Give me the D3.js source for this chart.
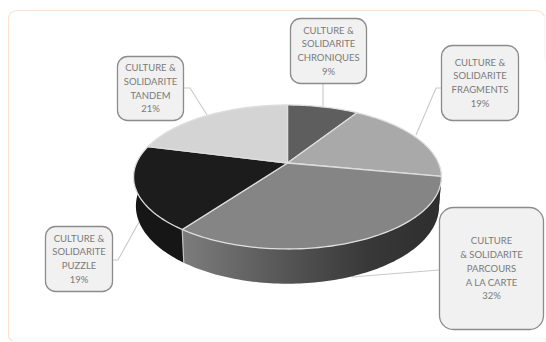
<!DOCTYPE html>
<html>
<head>
<meta charset="utf-8">
<script src="https://cdn.jsdelivr.net/npm/d3@7"></script>
<style>
  html, body { margin: 0; padding: 0; background: #fff; }
  svg { display: block; }
  text { font-family: Lato, "Open Sans", sans-serif; }
</style>
</head>
<body>
<svg id="chart" width="546" height="342"></svg>
<script>
// Share of each "Culture & Solidarité" programme, clockwise from twelve o'clock
const names = ["CHRONIQUES", "FRAGMENTS", "PARCOURS", "PUZZLE", "TANDEM"];
const shares = [9, 19, 32, 19, 21];
const topColors = ["#5e5e5e", "#a9a9a9", "#858585", "#1c1c1c", "#d4d4d4"];
const sideColors = ["#3a3a3a", "#383838", "url(#wallGradient)", "#161616", "#888888"];
const labelLines = [
  ["CULTURE &", "SOLIDARITE", "CHRONIQUES", "9%"],
  ["CULTURE &", "SOLIDARITE", "FRAGMENTS", "19%"],
  ["CULTURE", "& SOLIDARITE", "PARCOURS", "A LA CARTE", "32%"],
  ["CULTURE &", "SOLIDARITE", "PUZZLE", "19%"],
  ["CULTURE &", "SOLIDARITE", "TANDEM", "21%"]
];
const boxes = [
  { x: 290, y: 18, w: 76, h: 65, r: 10 },
  { x: 441, y: 45, w: 77, h: 75, r: 11 },
  { x: 439, y: 207, w: 104, h: 122, r: 14 },
  { x: 45, y: 226, w: 67, h: 65, r: 10 },
  { x: 117, y: 56, w: 66, h: 64, r: 10 }
];
const leaders = [
  [[323, 83], [323, 106]],
  [[441, 88], [436, 88], [416, 135]],
  [[439, 270], [352, 277]],
  [[112, 260], [118, 260], [139, 222]],
  [[183, 88], [190, 88], [207, 115]]
];

const svg = d3.select("#chart");
const defs = svg.append("defs");

// Shading along the front wall of the largest slice
const grad = defs.append("linearGradient").attr("id", "wallGradient")
  .attr("gradientUnits", "userSpaceOnUse")
  .attr("x1", 183).attr("x2", 440).attr("y1", 0).attr("y2", 0);
grad.append("stop").attr("offset", 0).attr("stop-color", "#7c7c7c");
grad.append("stop").attr("offset", 0.4).attr("stop-color", "#555555");
grad.append("stop").attr("offset", 0.72).attr("stop-color", "#383838");
grad.append("stop").attr("offset", 1).attr("stop-color", "#2e2e2e");

// Page frame: a pale band along the foot, then a peach edge on three sides
svg.append("rect").attr("x", 9).attr("y", 337).attr("width", 537).attr("height", 5)
  .attr("fill", "#f8fcfd");
svg.append("path")
  .attr("d", "M13,341 Q8.5,340 8.5,335 V20 Q8.5,10.5 18,10.5 H535 Q542,10.5 544.5,16")
  .attr("fill", "none").attr("stroke", "#fbe3cf").attr("stroke-width", 1.2);
svg.append("path")
  .attr("d", "M544.5,16 V60")
  .attr("fill", "none").attr("stroke", "#fdf4ec").attr("stroke-width", 1);

// Perspective projection of the tilted disc
const cx = 287.5, cy = 163, radiusX = 151, radiusY = 69.3, tilt = 0.194;
const depth = 28, floorScale = 0.985;
function rim(theta, floor) {
  const X = Math.sin(theta), Y = Math.cos(theta);
  const s = 1 / (1 + tilt * Y);
  const f = floor ? floorScale : 1;
  return [cx + radiusX * X * s * f,
          cy - radiusY * Y * s + (floor ? depth * s : 0)];
}
function arcPoints(a, b, floor) {
  const n = Math.max(2, Math.ceil(Math.abs(b - a) / 0.02));
  return d3.range(n + 1).map(i => rim(a + (b - a) * i / n, floor));
}
const line = d3.line();

const slices = d3.pie().sort(null).value(d => d)(shares);

// Leader lines sit under the pie
svg.append("g").selectAll("path").data(leaders).join("path")
  .attr("d", d => line(d))
  .attr("fill", "none").attr("stroke", "#c9c9c9").attr("stroke-width", 1.1);

// Visible part of the side wall: the half of the rim facing the viewer
const frontStart = Math.PI * 0.47, frontEnd = Math.PI * 1.53;
svg.append("g").selectAll("path")
  .data(slices.filter(d => d.endAngle > frontStart && d.startAngle < frontEnd))
  .join("path")
  .attr("d", d => {
    const a = Math.max(d.startAngle, frontStart), b = Math.min(d.endAngle, frontEnd);
    return line(arcPoints(a, b, false).concat(arcPoints(b, a, true))) + "Z";
  })
  .attr("fill", d => sideColors[d.index]);

// Edge where two wall colours meet
svg.append("g").selectAll("path")
  .data(slices.filter(d => d.index === 3))
  .join("path")
  .attr("d", d => line([rim(d.startAngle, false), rim(d.startAngle, true)]))
  .attr("fill", "none").attr("stroke", "#c4c4c4").attr("stroke-width", 1.2);

// Top face slices
svg.append("g").selectAll("path").data(slices).join("path")
  .attr("d", d => line([[cx, cy]].concat(arcPoints(d.startAngle, d.endAngle, false))) + "Z")
  .attr("fill", (d, i) => topColors[i])
  .attr("stroke", "#dedede").attr("stroke-width", 1.3).attr("stroke-linejoin", "round");

// Callouts
const callout = svg.append("g").selectAll("g").data(boxes).join("g");
callout.append("rect")
  .attr("x", d => d.x + 0.5).attr("y", d => d.y + 0.5)
  .attr("width", d => d.w).attr("height", d => d.h).attr("rx", d => d.r)
  .attr("fill", "#f1f1f1").attr("stroke", "#8c8c8c").attr("stroke-width", 1.3);
const lineHeight = 13.7;
callout.each(function (d, i) {
  const rows = labelLines[i];
  const top = d.y + d.h / 2 + 0.5 - (rows.length - 1) * lineHeight / 2;
  d3.select(this).selectAll("text").data(rows).join("text")
    .attr("x", d.x + d.w / 2 + 0.5)
    .attr("y", (t, j) => top + j * lineHeight)
    .attr("dy", "0.35em")
    .attr("text-anchor", "middle")
    .attr("font-size", 9.5)
    .attr("fill", "#7a7a7a")
    .text(t => t);
});
</script>
</body>
</html>
